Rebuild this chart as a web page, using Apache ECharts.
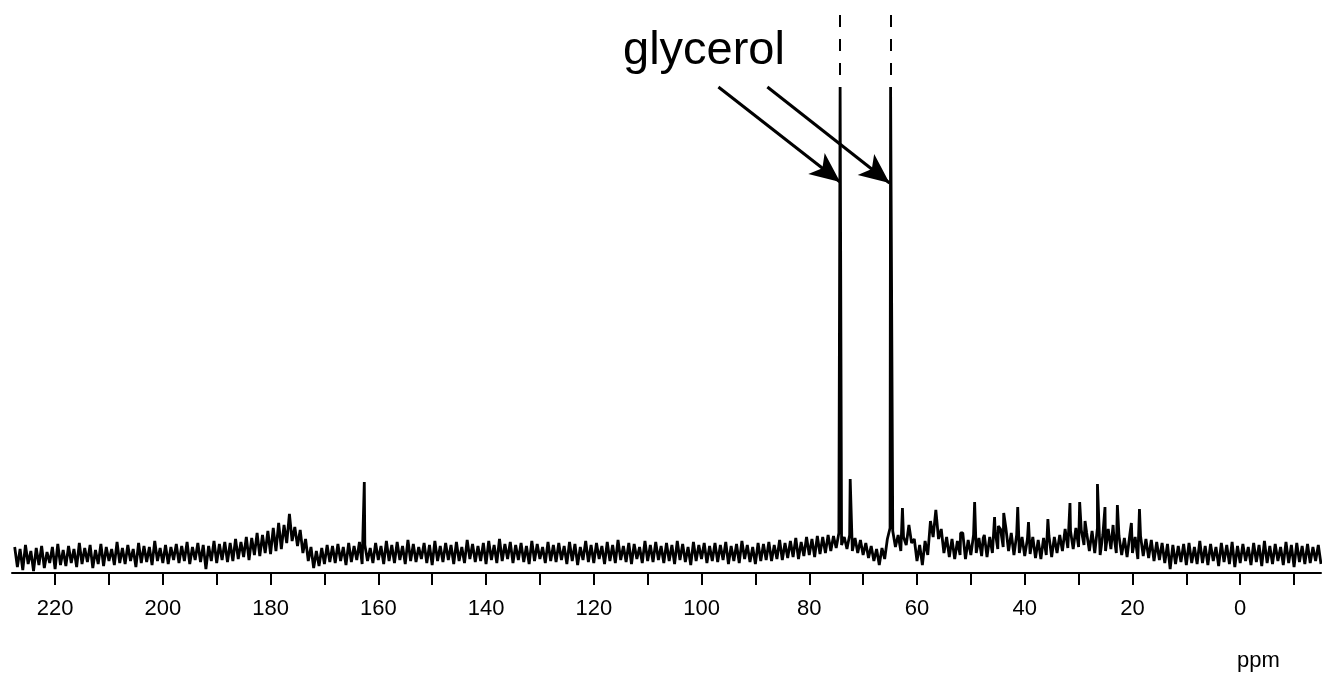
<!DOCTYPE html>
<html>
<head>
<meta charset="utf-8">
<title>13C NMR - glycerol</title>
<script src="https://cdn.jsdelivr.net/npm/echarts@6.0.0/dist/echarts.min.js"></script>
<style>
  html, body { margin: 0; padding: 0; background: #fff; }
  #chart { width: 1322px; height: 675px; }
</style>
</head>
<body>
<div id="chart"></div>
<script>
// 13C spectrum, x in ppm (reversed), y in arbitrary intensity units

// baseline noise, read every 0.5 ppm from 227.5 down to -15
const noiseStart = 227.5;
const noiseStep = 0.5;
const noise = [
  26, 6, 24, 3, 28, 9, 22, 2, 25, 8, 27, 5, 21, 10, 26, 4, 29, 8, 23, 7,
  27, 10, 24, 6, 30, 9, 25, 11, 28, 5, 23, 9, 29, 7, 26, 12, 24, 8, 31, 10,
  25, 9, 28, 12, 24, 6, 30, 10, 27, 11, 26, 8, 32, 12, 25, 10, 28, 9, 26, 13,
  29, 10, 27, 12, 31, 9, 26, 13, 30, 11, 28, 4, 27, 12, 32, 10, 29, 13, 31, 11,
  30, 12, 34, 14, 31, 16, 36, 13, 35, 18, 40, 17, 38, 20, 42, 19, 45, 22, 50, 24,
  48, 30, 59, 32, 46, 27, 43, 20, 34, 12, 26, 5, 22, 7, 25, 9, 28, 11, 27, 10,
  29, 12, 26, 8, 30, 11, 27, 13, 31, 9, 28, 12, 25, 10, 30, 13, 27, 9, 32, 12,
  28, 10, 31, 13, 27, 9, 33, 12, 29, 11, 26, 14, 30, 10, 28, 8, 32, 12, 27, 11,
  30, 13, 28, 9, 31, 12, 26, 10, 33, 14, 29, 11, 27, 12, 30, 9, 32, 13, 28, 10,
  34, 12, 29, 14, 31, 10, 28, 13, 30, 11, 27, 9, 32, 12, 29, 14, 26, 10, 31, 12,
  28, 11, 30, 13, 27, 9, 31, 12, 29, 8, 26, 13, 32, 11, 28, 10, 30, 14, 27, 9,
  31, 12, 28, 10, 33, 13, 27, 11, 30, 9, 29, 14, 26, 10, 32, 12, 28, 11, 31, 13,
  27, 10, 30, 12, 28, 9, 32, 13, 29, 11, 26, 8, 31, 12, 28, 14, 30, 10, 27, 12,
  30, 11, 28, 13, 31, 9, 27, 12, 29, 10, 32, 14, 28, 11, 26, 9, 30, 12, 29, 13,
  31, 12, 28, 14, 33, 13, 30, 15, 32, 16, 35, 14, 31, 17, 36, 18, 34, 16, 37, 19,
  36, 20, 38, 22, 37, 25, 40, 28, 36, 24, 38, 22, 35, 20, 33, 18, 30, 15, 27, 12,
  24, 8, 25, 14, 34, 45, 42, 26, 38, 22, 36, 28, 48, 30, 34, 12, 28, 8, 32, 18,
  52, 36, 63, 34, 44, 20, 36, 16, 34, 14, 32, 18, 40, 14, 33, 18, 38, 20, 35, 17,
  38, 16, 36, 20, 42, 24, 44, 26, 45, 22, 40, 18, 38, 20, 36, 17, 34, 19, 36, 15,
  33, 14, 35, 18, 37, 16, 36, 20, 38, 22, 44, 25, 42, 24, 45, 26, 43, 28, 40, 22,
  42, 20, 45, 18, 38, 22, 44, 24, 40, 20, 37, 18, 35, 16, 38, 20, 36, 14, 37, 17,
  34, 15, 33, 12, 31, 13, 30, 10, 29, 4, 28, 9, 27, 11, 29, 8, 30, 10, 26, 9,
  32, 10, 27, 8, 29, 12, 26, 7, 30, 11, 28, 9, 31, 6, 27, 10, 29, 12, 26, 8,
  30, 11, 28, 7, 32, 10, 27, 9, 29, 12, 26, 8, 31, 10, 28, 6, 30, 11, 27, 9,
  29, 10, 26, 12, 28, 9
];

// sharp lines (ppm, height)
const peakPpm = [162.6, 74.27, 72.4, 64.9, 62.7, 51.9, 49.3, 47.7, 45.6, 44.9, 43.9, 41.3, 39.3,
                 35.7, 31.6, 29.8, 28.8, 26.5, 25.1, 23.6, 22.8, 20.2, 18.7];
const peakHeight = [91, 486, 94, 486, 65, 40, 71, 35, 56, 47, 60, 66, 51,
                    54, 70, 71, 52, 89, 66, 48, 68, 50, 64];

// off-scale glycerol lines, continued dashed to the top
const clippedPpm = [74.27, 64.9];
const clippedFrom = 486;
const clippedTo = 558;

// annotation arrows: [startPpm, startY, tipPpm, tipY]
const arrows = [
  [96.86, 486, 74.27, 391],
  [87.77, 486, 65.1, 390]
];

const tickValues = [220, 210, 200, 190, 180, 170, 160, 150, 140, 130, 120, 110, 100,
                    90, 80, 70, 60, 50, 40, 30, 20, 10, 0, -10];
const labelValues = [220, 200, 180, 160, 140, 120, 100, 80, 60, 40, 20, 0];

const points = noise.map((v, i) => [noiseStart - i * noiseStep, v]);
peakPpm.forEach((p, i) => points.push([p, peakHeight[i]]));
points.sort((a, b) => b[0] - a[0]);

const markData = clippedPpm.map(p => [
  { coord: [p, clippedTo], symbol: 'none', lineStyle: { type: [12, 12], width: 2, color: '#000' } },
  { coord: [p, clippedFrom], symbol: 'none' }
]).concat(arrows.map(a => [
  { coord: [a[0], a[1]], symbol: 'none', lineStyle: { type: 'solid', width: 3, color: '#000' } },
  { coord: [a[2], a[3]], symbol: 'arrow', symbolSize: [20, 30] }
]));

const chart = echarts.init(document.getElementById('chart'), null, { renderer: 'canvas' });
const font = '"Liberation Sans", Arial, sans-serif';

chart.setOption({
  animation: false,
  backgroundColor: '#fff',
  title: [
    { text: 'glycerol', left: 623, top: 28, padding: 0,
      textStyle: { fontSize: 47, fontWeight: 'normal', color: '#000', fontFamily: font } },
    { text: 'ppm', left: 1237, top: 650, padding: 0,
      textStyle: { fontSize: 22, fontWeight: 'normal', color: '#000', fontFamily: font } }
  ],
  grid: { left: 12, right: 1, top: 12, bottom: 102 },
  xAxis: {
    type: 'value',
    inverse: true,
    min: -15,
    max: 228,
    axisLine: { onZero: false, lineStyle: { color: '#000', width: 2 } },
    axisTick: { customValues: tickValues, length: 12, lineStyle: { color: '#000', width: 2 } },
    axisLabel: { customValues: labelValues, margin: 25, fontSize: 22, color: '#000', fontFamily: font },
    splitLine: { show: false }
  },
  yAxis: {
    type: 'value',
    min: 0,
    max: 561,
    show: false
  },
  series: [{
    type: 'line',
    data: points,
    showSymbol: false,
    symbol: 'none',
    sampling: 'none',
    lineStyle: { color: '#000', width: 2.8 },
    markLine: {
      silent: true,
      animation: false,
      symbol: ['none', 'none'],
      label: { show: false },
      data: markData
    }
  }]
});
</script>
</body>
</html>
